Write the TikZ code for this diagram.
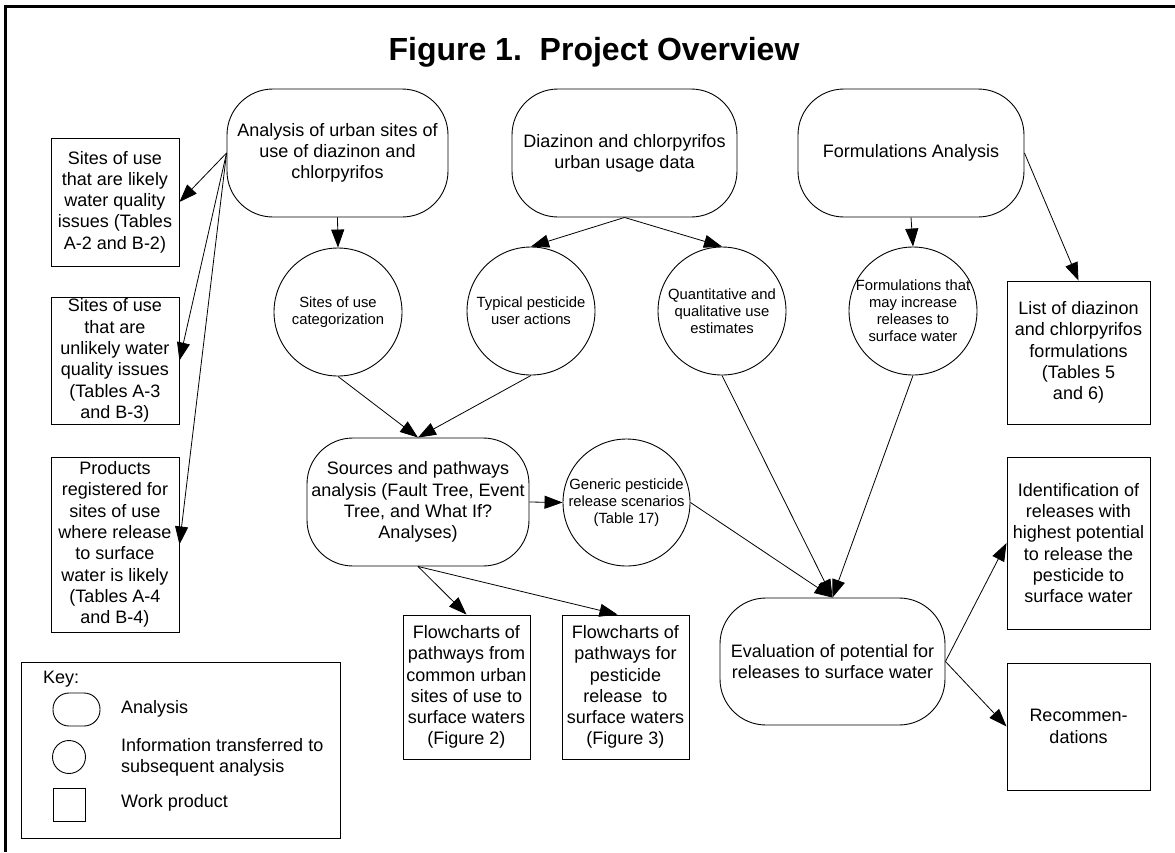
\documentclass[tikz,border=0pt]{standalone}
\usepackage{fontspec}
\setmainfont{Liberation Sans}
\usetikzlibrary{arrows.meta}

\begin{document}
\begin{tikzpicture}[x=1pt,y=-1pt,
  every node/.style={font=\fontsize{18}{21.3}\selectfont, align=center, inner sep=0pt},
  anabox/.style={draw, rectangle, rounded corners=46pt, line width=0.9pt},
  infocirc/.style={draw, circle, minimum size=128pt, inner sep=-14pt, line width=0.9pt,
                   font=\fontsize{14.8}{17}\selectfont},
  prodbox/.style={draw, rectangle, line width=0.9pt},
  link/.style={line width=0.8pt, -{Triangle[length=18pt,width=13pt]}},
]
\useasboundingbox (0,0) rectangle (1175,852);

% page frame (top and left rules)
\draw[line width=2.6pt] (1175,6.7) -- (5.3,6.7) -- (5.3,852);

% title
\node[font=\fontsize{32}{38}\selectfont\bfseries, anchor=base] (title) at (594,60)
  {Figure 1.\ \ Project Overview};

% analyses (top row)
\node[anabox, minimum width=221pt, minimum height=128pt] (urban) at (337.5,153)
  {Analysis of urban sites of\\use of diazinon and\\chlorpyrifos};
\node[anabox, minimum width=225pt, minimum height=128pt] (usage) at (624.5,153)
  {Diazinon and chlorpyrifos\\urban usage data};
\node[anabox, minimum width=226pt, minimum height=128pt] (formul) at (911,153)
  {Formulations Analysis};

% information transferred
\node[infocirc] (sitescat) at (338,312) {Sites of use\\categorization};
\node[infocirc] (actions) at (531,311) {Typical pesticide\\user actions};
\node[infocirc] (estimates) at (722,311) {Quantitative and\\qualitative use\\estimates};
\node[infocirc] (increase) at (913,311) {Formulations that\\may increase\\releases to\\surface water};

% sources and pathways
\node[anabox, minimum width=222pt, minimum height=128pt] (sources) at (418,502)
  {Sources and pathways\\analysis (Fault Tree, Event\\Tree, and What If?\\Analyses)};
\node[infocirc, minimum size=127pt] (generic) at (626.5,502.5)
  {Generic pesticide\\release scenarios\\(Table 17)};

% evaluation
\node[anabox, minimum width=225pt, minimum height=127pt] (eval) at (832.5,661.5)
  {Evaluation of potential for\\releases to surface water};

% work products, left column
\node[prodbox, minimum width=128pt, minimum height=128pt] (sitelikely) at (115,202)
  {Sites of use\\that are likely\\water quality\\issues (Tables\\A-2 and B-2)};
\node[prodbox, minimum width=128pt, minimum height=127pt] (siteunlikely) at (115,360.5)
  {Sites of use\\that are\\unlikely water\\quality issues\\(Tables A-3\\and B-3)};
\node[prodbox, minimum width=128pt, minimum height=175pt] (products) at (115,544.5)
  {Products\\registered for\\sites of use\\where release\\to surface\\water is likely\\(Tables A-4\\and B-4)};

% work products, flowcharts
\node[prodbox, minimum width=127pt, minimum height=144pt] (flowurban) at (466.5,687)
  {Flowcharts of\\pathways from\\common urban\\sites of use to\\surface waters\\(Figure 2)};
\node[prodbox, minimum width=127pt, minimum height=144pt] (flowrelease) at (625.5,687)
  {Flowcharts of\\pathways for\\pesticide\\release\ \ to\\surface waters\\(Figure 3)};

% work products, right column
\node[prodbox, minimum width=143pt, minimum height=143pt] (list) at (1078.5,352.5)
  {List of diazinon\\and chlorpyrifos\\formulations\\(Tables 5\\and 6)};
\node[prodbox, minimum width=143pt, minimum height=172pt] (ident) at (1078.5,543)
  {Identification of\\releases with\\highest potential\\to release the\\pesticide to\\surface water};
\node[prodbox, minimum width=143pt, minimum height=127pt] (recom) at (1078.5,726.5)
  {Recommen-\\dations};

% connectors
\draw[link] (urban.south) -- (sitescat.north);
\draw[link] (urban.west) -- (sitelikely.east);
\draw[link] (urban.west) -- (siteunlikely.east);
\draw[link] (urban.west) -- (products.east);
\draw[link] (usage.south) -- (actions.north);
\draw[link] (usage.south) -- (estimates.north);
\draw[link] (formul.south) -- (increase.north);
\draw[link] (formul.east) -- (list.north);
\draw[link] (sitescat.south) -- (sources.north);
\draw[link] (actions.south) -- (sources.north);
\draw[link] (sources.east) -- (generic.west);
\draw[link] (sources.south) -- (flowurban.north);
\draw[link] (sources.south) -- ([xshift=-8pt]flowrelease.north);
\draw[link] (estimates.south) -- (eval.north);
\draw[link] (increase.south) -- (eval.north);
\draw[link] (generic.east) -- (eval.north);
\draw[link] (eval.east) -- (ident.west);
\draw[link] (eval.east) -- (recom.west);

% key
\node[prodbox, minimum width=319pt, minimum height=176pt] (key) at (180.5,750) {};
\node[anchor=west] (keytitle) at (43,679) {Key:};
\node[draw, line width=0.9pt, rounded corners=16pt, minimum width=47pt, minimum height=33pt] (keyana) at (76.5,709.5) {};
\node[anchor=west] (keyanatext) at (121,709) {Analysis};
\node[draw, line width=0.9pt, circle, minimum size=33pt] (keyinfo) at (69,757) {};
\node[anchor=west, align=left] (keyinfotext) at (121,757) {Information transferred to\\subsequent analysis};
\node[draw, line width=0.9pt, minimum width=32pt, minimum height=33pt] (keyprod) at (69,804.5) {};
\node[anchor=west] (keyprodtext) at (121,803) {Work product};
\end{tikzpicture}
\end{document}
